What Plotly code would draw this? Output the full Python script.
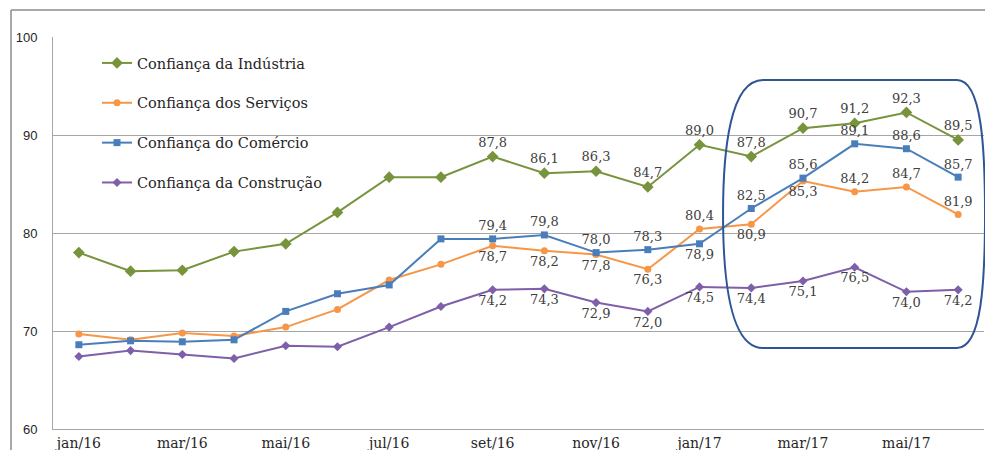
import plotly.graph_objects as go

# Monthly confidence indices, jan/16 - jun/17
meses = ["jan/16", "fev/16", "mar/16", "abr/16", "mai/16", "jun/16",
         "jul/16", "ago/16", "set/16", "out/16", "nov/16", "dez/16",
         "jan/17", "fev/17", "mar/17", "abr/17", "mai/17", "jun/17"]
industria = [78.0, 76.1, 76.2, 78.1, 78.9, 82.1, 85.7, 85.7, 87.8, 86.1,
             86.3, 84.7, 89.0, 87.8, 90.7, 91.2, 92.3, 89.5]
servicos = [69.7, 69.1, 69.8, 69.5, 70.4, 72.2, 75.2, 76.8, 78.7, 78.2,
            77.8, 76.3, 80.4, 80.9, 85.3, 84.2, 84.7, 81.9]
comercio = [68.6, 69.0, 68.9, 69.1, 72.0, 73.8, 74.7, 79.4, 79.4, 79.8,
            78.0, 78.3, 78.9, 82.5, 85.6, 89.1, 88.6, 85.7]
construcao = [67.4, 68.0, 67.6, 67.2, 68.5, 68.4, 70.4, 72.5, 74.2, 74.3,
              72.9, 72.0, 74.5, 74.4, 75.1, 76.5, 74.0, 74.2]

# x tick labels (every other month)
tick_meses = ["jan/16", "mar/16", "mai/16", "jul/16", "set/16",
              "nov/16", "jan/17", "mar/17", "mai/17"]

# value labels shown from set/16 onwards
INICIO_ROTULOS = 8

# label placement per point (T = above, B = below) from set/16 onwards
pos_industria = "TTTTTTTTTT"
pos_servicos = "BBBBTBBTTT"
pos_comercio = "TTTTBTTTTT"
pos_construcao = "BBBBBBBBBB"

SERIF = "DejaVu Serif"
TXT = "#404040"


def rotulos(valores):
    return ["" if i < INICIO_ROTULOS else f"{v:.1f}".replace(".", ",")
            for i, v in enumerate(valores)]


def posicoes(codigos):
    mapa = {"T": "top center", "B": "bottom center"}
    return ["top center"] * INICIO_ROTULOS + [mapa[c] for c in codigos]


series = [
    ("Confiança da Indústria", industria, "#77933C", "diamond", 9, pos_industria),
    ("Confiança dos Serviços", servicos, "#F79646", "circle", 7, pos_servicos),
    ("Confiança do Comércio", comercio, "#4A7EBB", "square", 7, pos_comercio),
    ("Confiança da Construção", construcao, "#7F5FA9", "diamond", 7, pos_construcao),
]

fig = go.Figure()
for i, (nome, vals, cor, simb, tam, pos) in enumerate(series):
    fig.add_trace(go.Scatter(
        x=meses, y=vals, name=nome, mode="lines+markers+text",
        line=dict(color=cor, width=2),
        marker=dict(color=cor, symbol=simb, size=tam),
        text=rotulos(vals), textposition=posicoes(pos),
        textfont=dict(family=SERIF, size=13, color=TXT),
        legendgroup=f"g{i}", cliponaxis=False,
    ))

# plot area in pixels: left 53, right 984, top 37, bottom 429
L, R, T, B = 53, 984, 37, 429
W, H = R - L, B - T


def fx(px):
    return (px - L) / W


def fy(py):
    return (B - py) / H


def P(px, py):
    return f"{fx(px):.4f},{fy(py):.4f}"


# rounded highlight around fev/17 - jun/17
destaque = ("M " + P(763, 80) + " L " + P(957, 80) +
            " C " + P(982, 80) + " " + P(985, 150) + " " + P(985, 214) +
            " C " + P(985, 280) + " " + P(982, 348) + " " + P(957, 348) +
            " L " + P(763, 348) +
            " C " + P(730, 348) + " " + P(723, 280) + " " + P(723, 214) +
            " C " + P(723, 150) + " " + P(730, 80) + " " + P(763, 80) + " Z")

moldura = dict(color="#8C8C8C", width=1.5)

fig.update_layout(
    width=985, height=450,
    margin=dict(l=L, r=985 - R, t=T, b=450 - B),
    paper_bgcolor="white", plot_bgcolor="white",
    showlegend=True,
    legend=dict(
        x=fx(97), y=fy(47), xanchor="left", yanchor="top",
        font=dict(family=SERIF, size=14.5, color="#262626"),
        bgcolor="rgba(0,0,0,0)", tracegroupgap=18,
    ),
    xaxis=dict(
        type="category", categoryorder="array", categoryarray=meses,
        range=[-0.5, len(meses) - 0.5], automargin=False,
        tickmode="array", tickvals=tick_meses, ticktext=tick_meses,
        tickfont=dict(family=SERIF, size=14, color="#262626"),
        showgrid=False, showline=True, linecolor="#A6A6A6", linewidth=1,
        ticks="", zeroline=False, ticklabelstandoff=1,
    ),
    yaxis=dict(
        range=[60, 100], dtick=10, tick0=60, automargin=False,
        tickfont=dict(family="Liberation Sans Narrow, Liberation Sans", size=13,
                      color="#262626"),
        showgrid=True, gridcolor="#A6A6A6", gridwidth=1,
        showline=True, linecolor="#A6A6A6", linewidth=1,
        ticks="", ticklabelstandoff=12, zeroline=False,
    ),
    shapes=[
        # outer frame, left and top edges
        dict(type="line", xref="paper", yref="paper",
             x0=fx(11), x1=fx(11), y0=fy(450), y1=fy(10),
             line=moldura, layer="below"),
        dict(type="line", xref="paper", yref="paper",
             x0=fx(11), x1=fx(985), y0=fy(10), y1=fy(10),
             line=moldura, layer="below"),
        dict(type="path", xref="paper", yref="paper", path=destaque,
             line=dict(color="#2F5597", width=2), layer="above"),
    ],
)

fig.write_html("out.html")
